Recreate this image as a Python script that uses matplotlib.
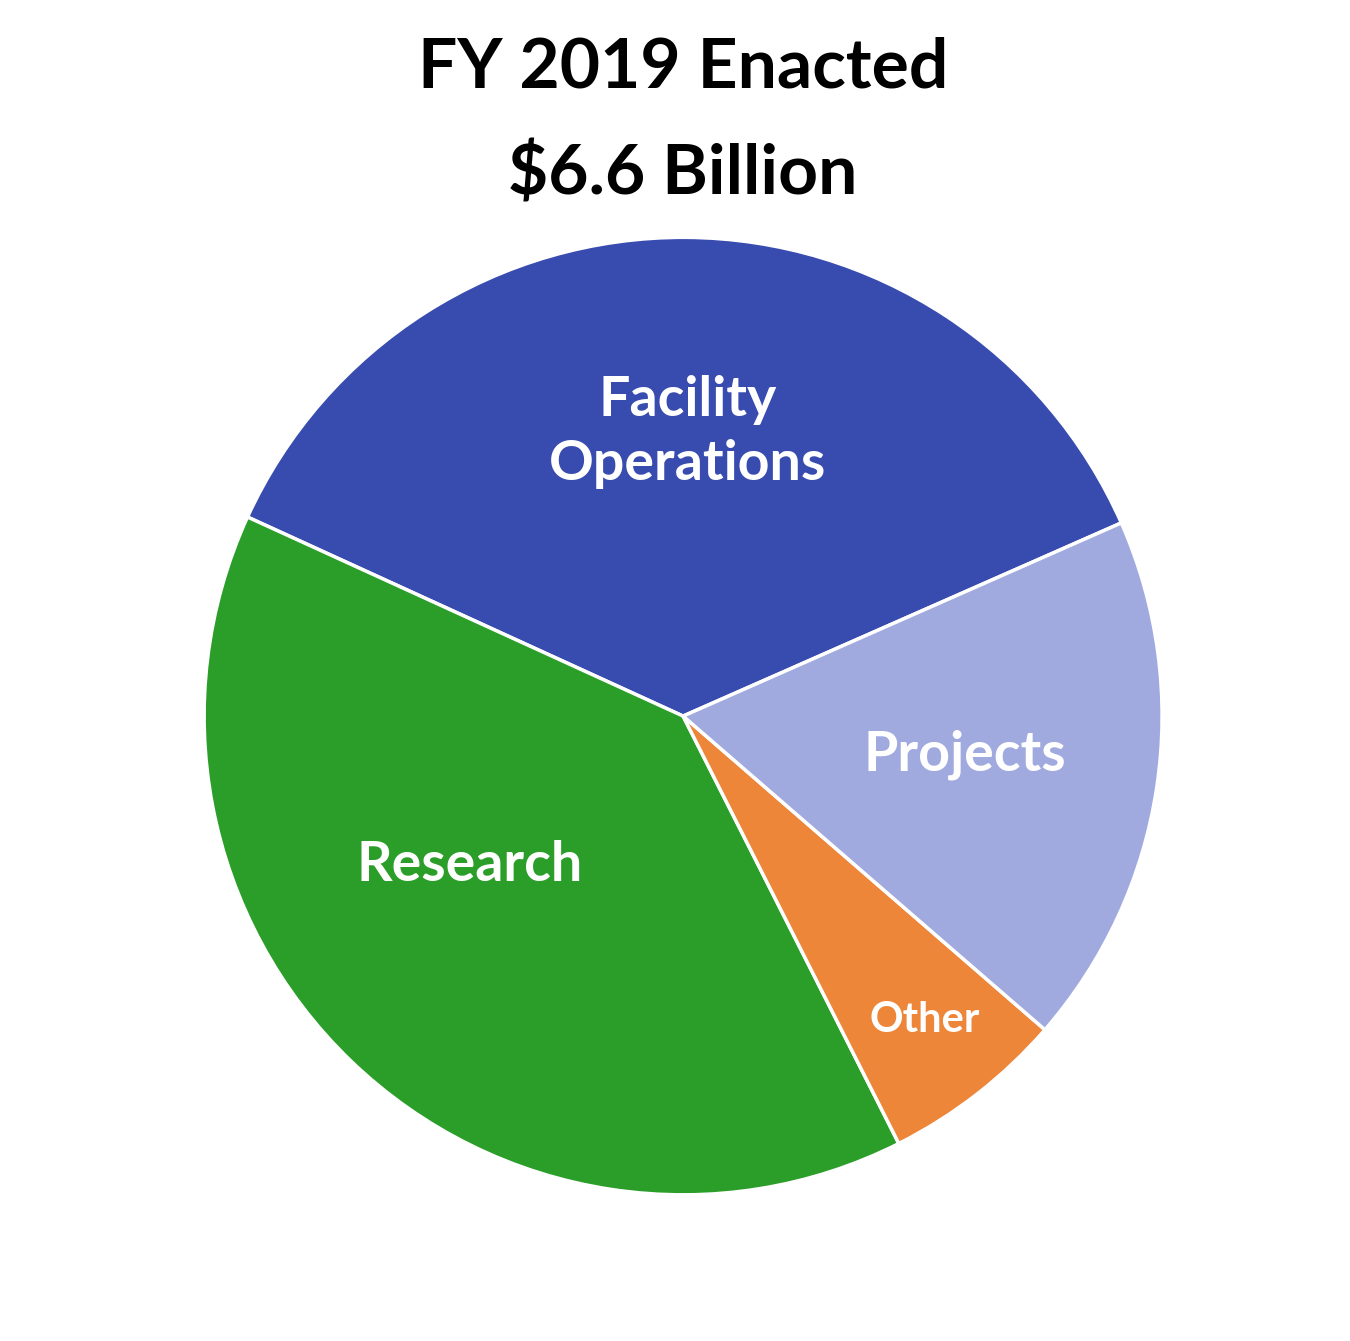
import matplotlib
matplotlib.use("Agg")
import matplotlib.pyplot as plt

labels = ["Facility\nOperations", "Research", "Other", "Projects"]
values = [36.6, 39.3, 6.2, 18.0]
colors = ["#384BAF", "#2A9E29", "#EE863A", "#A0AADF"]
title_lines = ["FY 2019 Enacted", "$6.6 Billion"]

plt.rcParams['font.family'] = ['Lato', 'DejaVu Sans']
fig = plt.figure(figsize=(13.5, 13.41), dpi=100)
ax = fig.add_axes([0.506 - 0.3548, 0.466 - 0.357, 0.7096, 0.714])
ax.pie(values, colors=colors, startangle=23.8, counterclock=True,
       wedgeprops=dict(edgecolor="white", linewidth=2.5))
ax.set_xlim(-1, 1); ax.set_ylim(-1, 1); ax.set_aspect('auto'); ax.axis('off')

pos = [(0.01, 0.593), (-0.445, -0.311), (0.505, -0.635), (0.589, -0.081)]
sizes = [40, 40, 30, 40]
for lab, (x, y), s in zip(labels, pos, sizes):
    ax.text(x, y, lab, ha='center', va='center', color='white', fontsize=s,
            fontweight='bold', linespacing=1.35)

fig.text(0.506, 1 - 68/1341, title_lines[0], ha='center', va='center', fontsize=50, fontweight='bold')
fig.text(0.506, 1 - 175/1341, title_lines[1], ha='center', va='center', fontsize=50, fontweight='bold')
fig.savefig("out.png", dpi=100, facecolor='white')
